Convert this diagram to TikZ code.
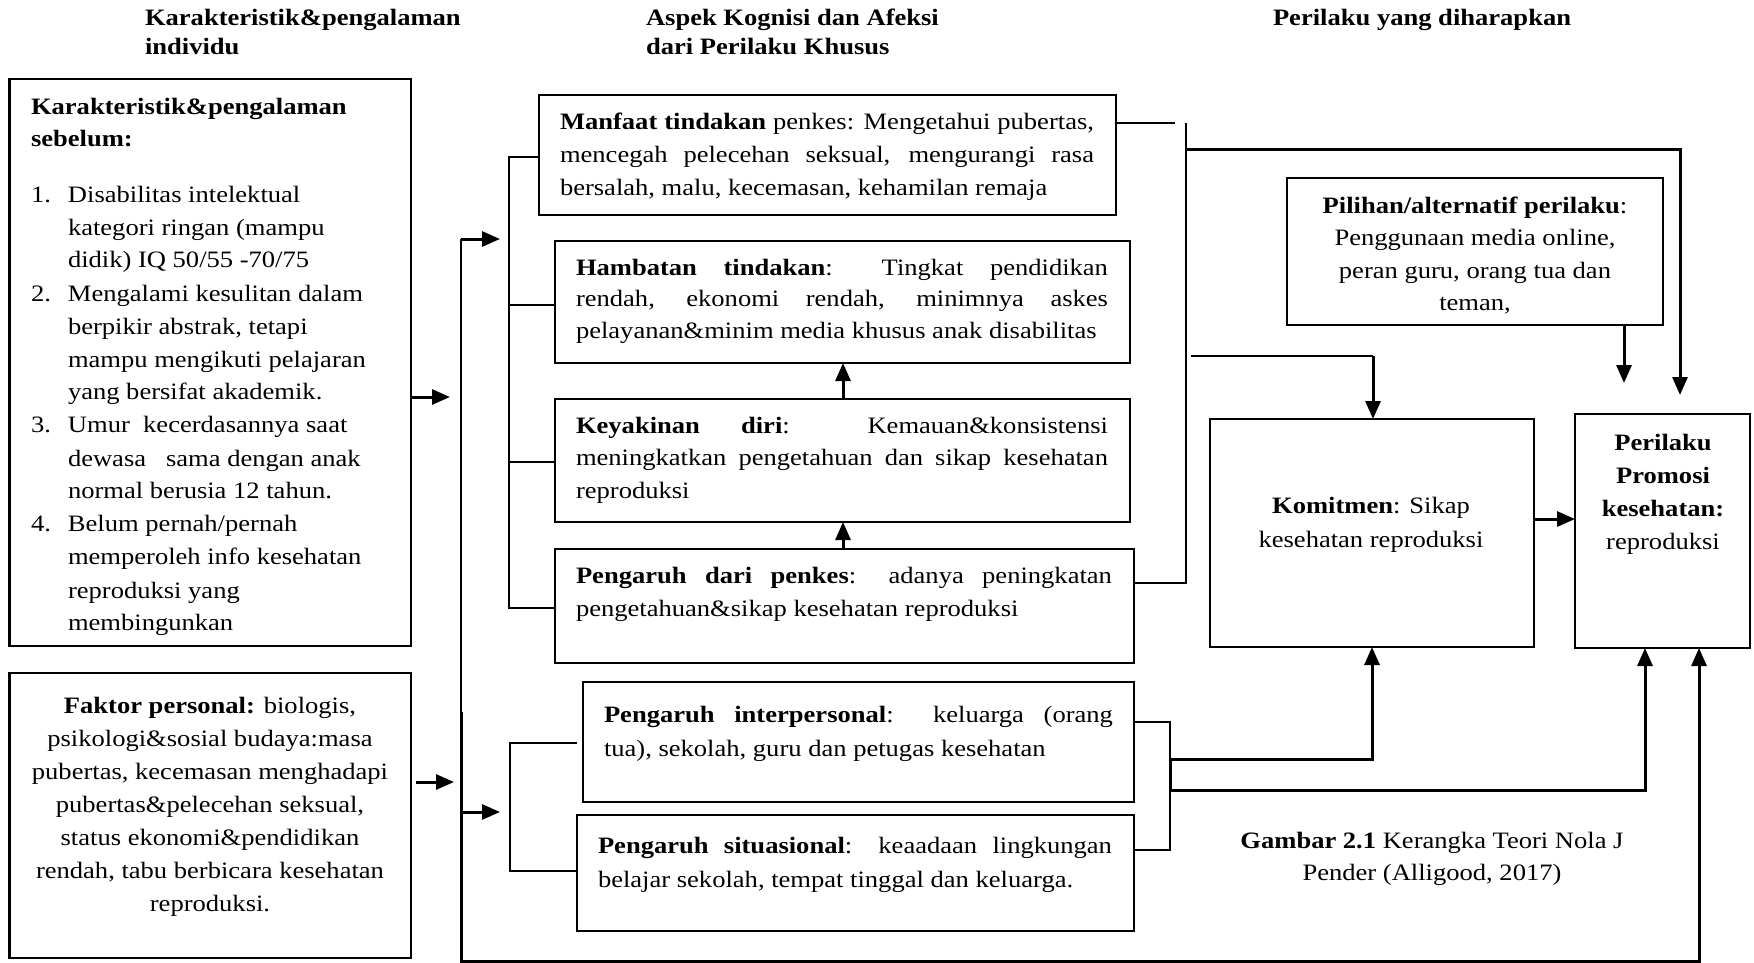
\documentclass[tikz,border=0pt]{standalone}
\usepackage{fontspec}
\setmainfont[FakeStretch=1.13]{Liberation Serif}
\usetikzlibrary{arrows.meta,calc}
\newcommand\myfs{\fontsize{23.5}{33}\selectfont}
\newcommand\jl[1]{\makebox[\linewidth][s]{#1}}
\begin{document}
\begin{tikzpicture}[x=1pt,y=-1pt,
  box/.style={draw, line width=2.9pt, anchor=north west, inner sep=0pt, outer sep=0pt},
  txt/.style={anchor=base west, inner sep=0pt, outer sep=0pt},
  ctxt/.style={anchor=base, inner sep=0pt, outer sep=0pt},
  thinl/.style={line width=1.3pt},
  thk/.style={line width=3pt},
  arr/.style={line width=3pt, -{Triangle[length=18pt,width=15pt]}},
]
\useasboundingbox (0,0) rectangle (1754,963);

% ---------- titles
\node[txt] (tt1) at (145,26) {\parbox[t]{400pt}{\fontsize{23.5}{29}\selectfont\bfseries Karakteristik\&pengalaman\\individu}};
\node[txt] (tt2) at (646,26) {\parbox[t]{400pt}{\fontsize{23.5}{29}\selectfont\bfseries Aspek Kognisi dan Afeksi\\dari Perilaku Khusus}};
\node[txt] (tt3) at (1273,26) {\bfseries\fontsize{23.5}{29}\selectfont Perilaku yang diharapkan};

% ---------- boxes
\node[box, minimum width=401.5pt, minimum height=567pt] (kar) at (9.5,79) {};
\node[box, minimum width=401.5pt, minimum height=285pt] (fak) at (9.5,673) {};
\node[box, minimum width=577pt, minimum height=120pt] (man) at (539,95) {};
\node[box, minimum width=575pt, minimum height=122pt] (ham) at (555,241) {};
\node[box, minimum width=575pt, minimum height=123pt] (key) at (555,399) {};
\node[box, minimum width=579pt, minimum height=114pt] (pen) at (555,549) {};
\node[box, minimum width=551pt, minimum height=120pt] (int) at (583,682) {};
\node[box, minimum width=557pt, minimum height=116pt] (sit) at (577,815) {};
\node[box, minimum width=376pt, minimum height=147pt] (pil) at (1287,178) {};
\node[box, minimum width=324pt, minimum height=228pt] (kom) at (1210,419) {};
\node[box, minimum width=175pt, minimum height=234pt] (per) at (1575,414) {};

% ---------- left box texts
\node[txt] (kh) at (31,115) {\parbox[t]{370pt}{\fontsize{23.5}{32}\selectfont\bfseries Karakteristik\&pengalaman\\sebelum:}};
\begin{scope}
\clip (0,0) rectangle (420,636);
\node[txt] (kl) at (31,202) {\parbox[t]{375pt}{\myfs\raggedright
\makebox[37pt][l]{1.}Disabilitas intelektual\\
\hspace*{37pt}kategori ringan (mampu\\
\hspace*{37pt}didik) IQ 50/55 -70/75\\
\makebox[37pt][l]{2.}Mengalami kesulitan dalam\\
\hspace*{37pt}berpikir abstrak, tetapi\\
\hspace*{37pt}mampu mengikuti pelajaran\\
\hspace*{37pt}yang bersifat akademik.\\
\makebox[37pt][l]{3.}Umur\ \ kecerdasannya saat\\
\hspace*{37pt}dewasa\ \ \ sama dengan anak\\
\hspace*{37pt}normal berusia 12 tahun.\\
\makebox[37pt][l]{4.}Belum pernah/pernah\\
\hspace*{37pt}memperoleh info kesehatan\\
\hspace*{37pt}reproduksi yang\\
\hspace*{37pt}membingunkan}};
\end{scope}
\node[ctxt] (kf) at (210,713) {\parbox[t]{395pt}{\myfs\centering
\textbf{Faktor personal:} biologis,\\
psikologi\&sosial budaya:masa\\
pubertas, kecemasan menghadapi\\
pubertas\&pelecehan seksual,\\
status ekonomi\&pendidikan\\
rendah, tabu berbicara kesehatan\\
reproduksi.}};

% ---------- middle texts
\node[txt] (tman) at (560,130) {\parbox[t]{534pt}{\myfs
\jl{\textbf{Manfaat tindakan} penkes: Mengetahui pubertas,}\\
\jl{mencegah pelecehan seksual, mengurangi rasa}\\
bersalah, malu, kecemasan, kehamilan remaja}};
\node[txt] (tham) at (576,275) {\parbox[t]{532pt}{\fontsize{23.5}{31.5}\selectfont
\jl{\textbf{Hambatan tindakan}: Tingkat pendidikan}\\
\jl{rendah, ekonomi rendah, minimnya askes}\\
pelayanan\&minim media khusus anak disabilitas}};
\node[txt] (tkey) at (576,433) {\parbox[t]{532pt}{\fontsize{23.5}{32.5}\selectfont
\jl{\textbf{Keyakinan diri}: Kemauan\&konsistensi}\\
\jl{meningkatkan pengetahuan dan sikap kesehatan}\\
reproduksi}};
\node[txt] (tpen) at (576,583) {\parbox[t]{536pt}{\myfs
\jl{\textbf{Pengaruh dari penkes}: adanya peningkatan}\\
pengetahuan\&sikap kesehatan reproduksi}};
\node[txt] (tint) at (604,722) {\parbox[t]{509pt}{\fontsize{23.5}{34}\selectfont
\jl{\textbf{Pengaruh interpersonal}:\ \ keluarga (orang}\\
tua), sekolah, guru dan petugas kesehatan}};
\node[txt] (tsit) at (598,853) {\parbox[t]{514pt}{\fontsize{23.5}{34}\selectfont
\jl{\textbf{Pengaruh situasional}: keaadaan lingkungan}\\
belajar sekolah, tempat tinggal dan keluarga.}};

% ---------- right texts
\node[ctxt] (tpil) at (1475,213) {\parbox[t]{370pt}{\fontsize{23.5}{32.5}\selectfont\centering
\textbf{Pilihan/alternatif perilaku}:\\
Penggunaan media online,\\
peran guru, orang tua dan\\
teman,}};
\node[ctxt] (tkom) at (1371,513) {\parbox[t]{320pt}{\fontsize{23.5}{34}\selectfont\centering
\textbf{Komitmen}: Sikap\\
kesehatan reproduksi}};
\node[ctxt] (tper) at (1663,450) {\parbox[t]{170pt}{\fontsize{23.5}{33}\selectfont\centering
\textbf{Perilaku}\\
\textbf{Promosi}\\
\textbf{kesehatan:}\\
reproduksi}};
\node[ctxt] (tcap) at (1432,848) {\parbox[t]{420pt}{\fontsize{23.5}{32}\selectfont\centering
\textbf{Gambar 2.1} Kerangka Teori Nola J\\
Pender (Alligood, 2017)}};

% ---------- left connectors
\coordinate (a1) at (450,397);
\draw[arr] (kar.east |- a1) -- (a1);
\coordinate (a2) at (454,782);
\draw[arr] ([xshift=5pt]fak.east |- a2) -- (a2);

\coordinate (busTop) at (461,239);
\coordinate (busMid) at (461,712);
\coordinate (busB) at (461,812);
\coordinate (busBot) at (461,961);
\coordinate (fbX) at (1699,961);
\draw[thinl] (busTop) -- (busMid);
\draw[arr] (busMid) -- (busBot) -- (fbX) -- (fbX |- per.south);
\coordinate (arA) at (500,239);
\draw[arr] (busTop) -- (arA);
\coordinate (arB) at (500,812);
\draw[arr] (busB) -- (arB);

% brackets
\coordinate (bk1) at (509,157);
\coordinate (bk2) at (509,305);
\coordinate (bk3) at (509,462);
\coordinate (bk4) at (509,608);
\draw[thinl] (bk1 -| man.west) -- (bk1) -- (bk4) -- (bk4 -| pen.west);
\draw[thinl] (bk2) -- (bk2 -| ham.west);
\draw[thinl] (bk3) -- (bk3 -| key.west);
\coordinate (bk5) at (510,743);
\coordinate (bk6) at (510,871);
\draw[thinl] (bk5 -| sit.west) -- (bk5) -- (bk6) -- (bk6 -| sit.west);

% middle arrows
\coordinate (m1) at (843,0);
\draw[arr] (m1 |- key.north) -- (m1 |- ham.south);
\draw[arr] (m1 |- pen.north) -- (m1 |- key.south);

% ---------- right connectors
\coordinate (r1) at (1175,123);
\draw[thinl] (r1 -| man.east) -- (r1);
\coordinate (r2) at (1186,123);
\coordinate (r3) at (1186,583);
\draw[thinl] (r2) -- (r3) -- (r3 -| pen.east);
\coordinate (r4) at (1186,150);
\coordinate (r5) at (1680,150);
\coordinate (r6) at (1680,395);
\draw[arr] (r4) -- (r5) -- (r6);
\coordinate (r7) at (1191,356);
\coordinate (r8) at (1373,356);
\draw[thinl] (r7) -- (r8);
\draw[arr] (r8) -- (r8 |- kom.north);
\coordinate (p1) at (1624,383);
\draw[arr] (p1 |- pil.south) -- (p1);
\coordinate (k1) at (1534,519);
\draw[arr] (kom.east |- k1) -- (per.west |- k1);

\coordinate (s1) at (1170,722);
\coordinate (s2) at (1170,850);
\draw[thinl] (s1 -| int.east) -- (s1) -- (s2) -- (s2 -| sit.east);
\coordinate (s3) at (1170,759);
\coordinate (s4) at (1372,759);
\coordinate (s5) at (1170,790);
\coordinate (s6) at (1645,790);
\draw[thk] (s3) -- (s5);
\draw[arr] (s3) -- (s4) -- (s4 |- kom.south);
\draw[arr] (s5) -- (s6) -- (s6 |- per.south);
\end{tikzpicture}
\end{document}
